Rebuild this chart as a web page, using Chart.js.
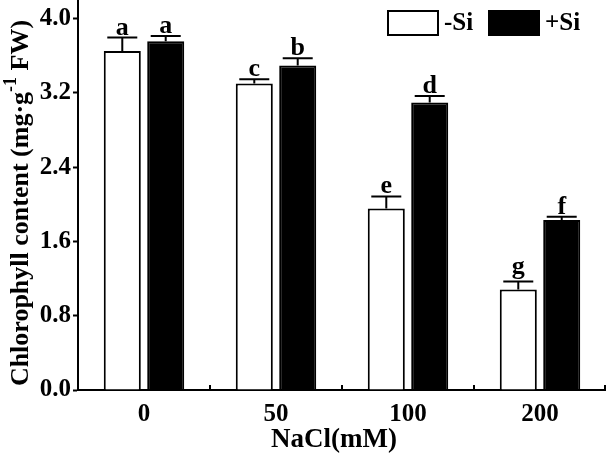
<!DOCTYPE html>
<html>
<head>
<meta charset="utf-8">
<script src="https://cdn.jsdelivr.net/npm/chart.js@4/dist/chart.umd.min.js"></script>
<style>
  body { margin: 0; background: #fff; }
  #wrap { width: 606px; height: 461px; }
</style>
</head>
<body>
<div id="wrap"><canvas id="chlChart"></canvas></div>
<script>
var categories = ["0", "50", "100", "200"];
var minusSi = [3.65, 3.30, 1.955, 1.083];
var minusSiErr = [0.145, 0.047, 0.13, 0.085];
var minusSiLetters = ["a", "c", "e", "g"];
var plusSi = [3.755, 3.495, 3.095, 1.832];
var plusSiErr = [0.058, 0.079, 0.072, 0.034];
var plusSiLetters = ["a", "b", "d", "f"];
var yTicks = [0, 0.8, 1.6, 2.4, 3.2, 4.0];

var serif = "'Liberation Serif', 'Times New Roman', serif";

// error bars + significance letters
const errorBars = {
  id: "errorBars",
  afterDatasetsDraw(chart) {
    const ctx = chart.ctx;
    const y = chart.scales.y;
    ctx.save();
    ctx.strokeStyle = "#000";
    ctx.fillStyle = "#000";
    ctx.lineWidth = 2;
    ctx.font = "bold 26px " + serif;
    ctx.textAlign = "center";
    ctx.textBaseline = "alphabetic";
    chart.data.datasets.forEach((ds, i) => {
      chart.getDatasetMeta(i).data.forEach((bar, j) => {
        const top = y.getPixelForValue(ds.data[j]);
        const cap = y.getPixelForValue(ds.data[j] + ds.err[j]);
        ctx.beginPath();
        ctx.moveTo(bar.x, top);
        ctx.lineTo(bar.x, cap);
        ctx.moveTo(bar.x - 15, cap);
        ctx.lineTo(bar.x + 15, cap);
        ctx.stroke();
        const m = ctx.measureText(ds.letters[j]);
        ctx.fillText(ds.letters[j], bar.x, cap - 3 - m.actualBoundingBoxDescent);
      });
    });
    ctx.restore();
  },
};

// axis titles, x ticks pointing in, legend
const decorations = {
  id: "decorations",
  afterDraw(chart) {
    const ctx = chart.ctx;
    const area = chart.chartArea;
    const x = chart.scales.x;
    ctx.save();
    ctx.strokeStyle = "#000";
    ctx.fillStyle = "#000";
    ctx.lineWidth = 2;

    // inward ticks between groups
    for (let i = 1; i <= categories.length; i++) {
      const px = (x.getPixelForValue(i - 1) + x.getPixelForValue(Math.min(i, categories.length - 1))) / 2;
      const tx = i === categories.length ? area.right - 1 : px;
      ctx.beginPath();
      ctx.moveTo(tx, area.bottom);
      ctx.lineTo(tx, area.bottom - 5);
      ctx.stroke();
    }

    // x title
    ctx.font = "bold 27px " + serif;
    ctx.textAlign = "center";
    ctx.textBaseline = "middle";
    ctx.fillText("NaCl(mM)", (area.left + area.right) / 2 - 8, 440);

    // y title with superscript
    ctx.translate(28, 203);
    ctx.rotate(-Math.PI / 2);
    ctx.textBaseline = "alphabetic";
    ctx.textAlign = "left";
    const big = "bold 26px " + serif;
    const small = "bold 18px " + serif;
    const parts = [
      ["Chlorophyll content (mg\u00b7g", big, 0],
      ["-1", small, -12],
      [" FW)", big, 0],
    ];
    let total = 0;
    parts.forEach((p) => { ctx.font = p[1]; total += ctx.measureText(p[0]).width; });
    let cx = -total / 2;
    parts.forEach((p) => {
      ctx.font = p[1];
      ctx.fillText(p[0], cx, p[2]);
      cx += ctx.measureText(p[0]).width;
    });
    ctx.setTransform(1, 0, 0, 1, 0, 0);
    ctx.scale(chart.currentDevicePixelRatio, chart.currentDevicePixelRatio);

    // legend
    ctx.font = "bold 25px " + serif;
    ctx.textAlign = "left";
    ctx.textBaseline = "middle";
    const boxes = [387, 488];
    chart.data.datasets.forEach((ds, i) => {
      const bx = boxes[i];
      ctx.fillStyle = ds.backgroundColor;
      ctx.fillRect(bx, 10, 52, 26);
      ctx.strokeStyle = "#000";
      ctx.strokeRect(bx + 1, 11, 50, 24);
      ctx.fillStyle = "#000";
      ctx.fillText(ds.label, bx + 57, 24);
    });
    ctx.restore();
  },
};

new Chart(document.getElementById("chlChart"), {
  type: "bar",
  data: {
    labels: categories,
    datasets: [
      {
        label: "-Si",
        data: minusSi,
        err: minusSiErr,
        letters: minusSiLetters,
        backgroundColor: "#ffffff",
        borderColor: "#000000",
        borderWidth: 2,
      },
      {
        label: "+Si",
        data: plusSi,
        err: plusSiErr,
        letters: plusSiLetters,
        backgroundColor: "#000000",
        borderColor: "#000000",
        borderWidth: 2,
      },
    ],
  },
  options: {
    responsive: true,
    maintainAspectRatio: false,
    animation: false,
    categoryPercentage: 0.658,
    barPercentage: 0.853,
    layout: { padding: 0 },
    plugins: {
      legend: { display: false },
      tooltip: { enabled: false },
    },
    scales: {
      x: {
        grid: { drawOnChartArea: false, drawTicks: false, display: false },
        border: { display: true, color: "#000", width: 2 },
        ticks: {
          color: "#000",
          padding: 10,
          font: { family: serif, size: 25, weight: "bold" },
        },
        afterFit(scale) {
          scale.height = 71;
          scale.paddingLeft = 0;
          scale.paddingRight = 0;
        },
      },
      y: {
        min: 0,
        max: 4.2,
        grid: { drawOnChartArea: false, drawTicks: true, tickLength: 5, tickWidth: 2, tickColor: "#000" },
        border: { display: true, color: "#000", width: 2 },
        ticks: {
          color: "#000",
          padding: 2,
          font: { family: serif, size: 25, weight: "bold" },
          callback: (v) => Number(v).toFixed(1),
        },
        afterBuildTicks(scale) {
          scale.ticks = yTicks.map((v) => ({ value: v }));
        },
        afterFit(scale) {
          scale.width = 78;
          scale.paddingTop = 0;
          scale.paddingBottom = 0;
        },
      },
    },
  },
  plugins: [errorBars, decorations],
});
</script>
</body>
</html>
